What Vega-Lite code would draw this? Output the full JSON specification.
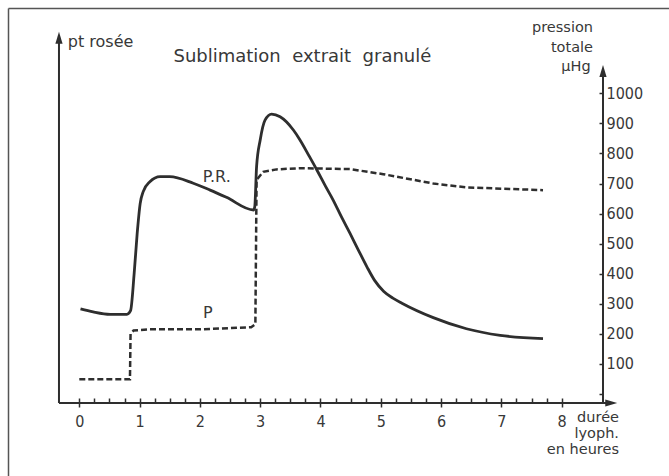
{
  "$schema": "https://vega.github.io/schema/vega-lite/v6.json",
  "width": 661,
  "height": 468,
  "autosize": {"type": "none"},
  "padding": {"left": 8, "top": 8, "right": 0, "bottom": 0},
  "background": "white",
  "config": {
    "view": {"stroke": null},
    "axis": {"grid": false},
    "text": {"font": "DejaVu Sans", "color": "#383838"}
  },
  "datasets": {
    "pr": [
      {"h": 0.02, "v": 283}, {"h": 0.23, "v": 273}, {"h": 0.51, "v": 265}, {"h": 0.79, "v": 265},
      {"h": 0.85, "v": 277}, {"h": 0.91, "v": 401}, {"h": 0.96, "v": 534}, {"h": 1.01, "v": 634},
      {"h": 1.06, "v": 673}, {"h": 1.17, "v": 706}, {"h": 1.34, "v": 723}, {"h": 1.5, "v": 723},
      {"h": 1.89, "v": 701}, {"h": 2.17, "v": 678}, {"h": 2.44, "v": 654}, {"h": 2.89, "v": 612},
      {"h": 2.91, "v": 623}, {"h": 2.94, "v": 756}, {"h": 3.0, "v": 845}, {"h": 3.08, "v": 911},
      {"h": 3.19, "v": 931}, {"h": 3.33, "v": 922}, {"h": 3.55, "v": 878}, {"h": 3.66, "v": 845},
      {"h": 3.81, "v": 792}, {"h": 3.94, "v": 745}, {"h": 4.08, "v": 692}, {"h": 4.21, "v": 645},
      {"h": 4.35, "v": 588}, {"h": 4.49, "v": 534}, {"h": 4.63, "v": 478}, {"h": 4.77, "v": 423},
      {"h": 4.9, "v": 377}, {"h": 5.05, "v": 341}, {"h": 5.2, "v": 319}, {"h": 5.35, "v": 302},
      {"h": 5.87, "v": 254}, {"h": 6.42, "v": 217}, {"h": 6.98, "v": 195}, {"h": 7.69, "v": 184}
    ],
    "p": [
      {"h": 0.0, "v": 49}, {"h": 0.84, "v": 49}, {"h": 0.85, "v": 200}, {"h": 0.9, "v": 211},
      {"h": 1.17, "v": 215}, {"h": 2.0, "v": 215}, {"h": 2.85, "v": 222}, {"h": 2.92, "v": 232},
      {"h": 2.94, "v": 712}, {"h": 3.05, "v": 739}, {"h": 3.27, "v": 747}, {"h": 3.66, "v": 751},
      {"h": 4.49, "v": 748}, {"h": 5.04, "v": 731}, {"h": 5.87, "v": 700}, {"h": 6.43, "v": 687},
      {"h": 7.69, "v": 678}
    ],
    "axes": [
      {"x1": -0.337, "x2": 8.75, "y1": -29.9, "y2": -29.9},
      {"x1": -0.337, "x2": -0.337, "y1": -29.9, "y2": 1180},
      {"x1": 8.685, "x2": 8.685, "y1": -29.9, "y2": 1070}
    ],
    "arrows_up": [
      {"h": -0.337, "v": 1185},
      {"h": 8.685, "v": 1074}
    ],
    "arrows_right": [
      {"h": 8.822, "v": -29.9}
    ],
    "labels_center": [
      {"h": 3.7, "v": 1121.7, "t": "Sublimation\u00a0\u00a0extrait\u00a0\u00a0granulé", "s": 18},
      {"h": 2.28, "v": 721.7, "t": "P.R.", "s": 16},
      {"h": 2.13, "v": 271, "t": "P", "s": 16}
    ],
    "labels_left": [
      {"h": -0.19, "v": 1170.6, "t": "pt rosée"}
    ],
    "labels_right": [
      {"h": 8.519, "v": 1218, "t": "pression"},
      {"h": 8.519, "v": 1151, "t": "totale"},
      {"h": 8.48, "v": 1087, "t": "µHg"},
      {"h": 8.95, "v": -80, "t": "durée"},
      {"h": 8.95, "v": -133, "t": "lyoph."},
      {"h": 8.95, "v": -186, "t": "en heures"}
    ]
  },
  "resolve": {"axis": {"x": "independent", "y": "independent"}},
  "layer": [
    {
      "data": {"name": "axes"},
      "mark": {"type": "rule", "color": "#2e2e2e", "strokeWidth": 2},
      "encoding": {
        "x": {
          "field": "x1", "type": "quantitative",
          "scale": {"domain": [-1.1824, 9.7795], "nice": false, "zero": false},
          "axis": {
            "orient": "bottom", "offset": -73, "domain": false, "title": null,
            "values": [0, 0.25, 0.5, 0.75, 1, 1.25, 1.5, 1.75, 2, 2.25, 2.5, 2.75, 3, 3.25, 3.5, 3.75, 4, 4.25, 4.5, 4.75, 5, 5.25, 5.5, 5.75, 6, 6.25, 6.5, 6.75, 7, 7.25, 7.5, 7.75, 8],
            "labelExpr": "datum.value % 1 === 0 ? format(datum.value, 'd') : ''",
            "tickSize": -5, "tickWidth": 1.5, "tickColor": "#2e2e2e",
            "labelPadding": 15, "labelFontSize": 16, "labelColor": "#383838",
            "labelFont": "Liberation Sans Narrow, DejaVu Sans Condensed, DejaVu Sans",
            "labelOverlap": false, "labelFlush": false, "labelBaseline": "top"
          }
        },
        "x2": {"field": "x2"},
        "y": {
          "field": "y1", "type": "quantitative",
          "scale": {"domain": [-272.7, 1283.7], "nice": false, "zero": false},
          "axis": {
            "orient": "right", "offset": -66, "domain": false, "title": null,
            "values": [0, 100, 200, 300, 400, 500, 600, 700, 800, 900, 1000],
            "labelExpr": "datum.value === 0 ? '' : format(datum.value, 'd')",
            "tickSize": -4, "tickWidth": 1.5, "tickColor": "#2e2e2e",
            "labelPadding": 7, "labelFontSize": 16, "labelColor": "#383838",
            "labelFont": "Liberation Sans Narrow, DejaVu Sans Condensed, DejaVu Sans",
            "labelOverlap": false, "labelFlush": false
          }
        },
        "y2": {"field": "y2"}
      }
    },
    {
      "data": {"name": "pr"},
      "mark": {"type": "line", "color": "#2e2e2e", "strokeWidth": 2.8, "interpolate": "monotone"},
      "encoding": {
        "x": {"field": "h", "type": "quantitative",
          "axis": {"orient": "top", "domain": true, "domainColor": "#555", "domainWidth": 1.5, "ticks": false, "labels": false, "title": null}},
        "y": {"field": "v", "type": "quantitative",
          "axis": {"orient": "left", "domain": true, "domainColor": "#555", "domainWidth": 1.5, "ticks": false, "labels": false, "title": null}}
      }
    },
    {
      "data": {"name": "p"},
      "mark": {"type": "line", "color": "#2e2e2e", "strokeWidth": 2.5, "strokeDash": [6, 3], "interpolate": "linear"},
      "encoding": {
        "x": {"field": "h", "type": "quantitative",
          "axis": {"orient": "bottom", "offset": -73, "domain": false, "labels": false, "title": null,
            "values": [0, 1, 2, 3, 4, 5, 6, 7, 8], "tickSize": 4, "tickWidth": 1.5, "tickColor": "#2e2e2e"}},
        "y": {"field": "v", "type": "quantitative", "axis": null}
      }
    },
    {
      "data": {"name": "arrows_up"},
      "mark": {"type": "point", "shape": "M0,-1L0.6,1L-0.6,1Z", "size": 144, "filled": true, "color": "#2e2e2e", "opacity": 1},
      "encoding": {
        "x": {"field": "h", "type": "quantitative", "axis": null},
        "y": {"field": "v", "type": "quantitative", "axis": null}
      }
    },
    {
      "data": {"name": "arrows_right"},
      "mark": {"type": "point", "shape": "M1,0L-1,0.6L-1,-0.6Z", "size": 144, "filled": true, "color": "#2e2e2e", "opacity": 1},
      "encoding": {
        "x": {"field": "h", "type": "quantitative", "axis": null},
        "y": {"field": "v", "type": "quantitative", "axis": null}
      }
    },
    {
      "data": {"name": "labels_center"},
      "mark": {"type": "text", "align": "center", "baseline": "middle"},
      "encoding": {
        "x": {"field": "h", "type": "quantitative", "axis": null},
        "y": {"field": "v", "type": "quantitative", "axis": null},
        "text": {"field": "t"},
        "size": {"field": "s", "type": "quantitative", "scale": null}
      }
    },
    {
      "data": {"name": "labels_left"},
      "mark": {"type": "text", "align": "left", "baseline": "middle", "fontSize": 16},
      "encoding": {
        "x": {"field": "h", "type": "quantitative", "axis": null},
        "y": {"field": "v", "type": "quantitative", "axis": null},
        "text": {"field": "t"}
      }
    },
    {
      "data": {"name": "labels_right"},
      "mark": {"type": "text", "align": "right", "baseline": "middle", "fontSize": 14.5},
      "encoding": {
        "x": {"field": "h", "type": "quantitative", "axis": null},
        "y": {"field": "v", "type": "quantitative", "axis": null},
        "text": {"field": "t"}
      }
    }
  ]
}
